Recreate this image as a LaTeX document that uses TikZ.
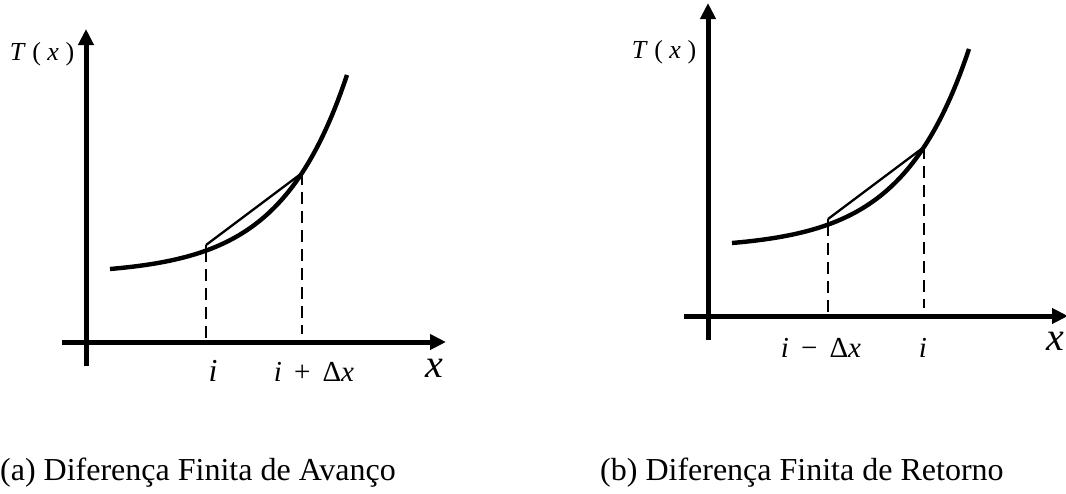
\documentclass[tikz,border=0pt]{standalone}
\usepackage{fontspec}
\setmainfont{Liberation Serif}
\usetikzlibrary{arrows.meta}
\begin{document}
\begin{tikzpicture}[x=1pt,y=-1pt,
  axis/.style={line width=5pt,-{Triangle[length=16pt,width=15pt]}},
  curve/.style={line width=4.4pt},
  chord/.style={line width=2.3pt},
  guide/.style={line width=2.8pt,dash pattern=on 12pt off 7pt},
  lbl/.style={inner sep=0pt,anchor=base,font=\fontsize{29}{31}\selectfont},
  biglbl/.style={inner sep=0pt,anchor=base,font=\fontsize{32}{34}\selectfont},
  axlbl/.style={inner sep=0pt,anchor=base,font=\fontsize{40}{42}\selectfont},
  tlbl/.style={inner sep=0pt,anchor=center,font=\fontsize{26}{28}\selectfont},
  captext/.style={inner sep=0pt,anchor=base west,font=\fontsize{32}{34}\selectfont}]
\useasboundingbox (0,0) rectangle (1066,493);
% ---------- left diagram ----------
\coordinate (La0) at (62,342);
\coordinate (La1) at (446,342);
\coordinate (Lb0) at (86,366);
\coordinate (Lb1) at (86,29);
\draw[axis] (La0) -- (La1);
\draw[axis] (Lb0) -- (Lb1);
\draw[curve] plot[domain=110:347,samples=80] (\x,{274.7-5.71*exp(0.015*(\x-110))});
\coordinate (LP) at (206,245);
\coordinate (LPc) at (206,250);
\coordinate (LQ) at (302,173);
\coordinate (LPb) at (206,342);
\coordinate (LQb) at (302,334);
\draw[chord] (LP) -- (LQ);
\draw[chord] (LP) -- (LPc);
\draw[guide] (LPc) -- (LPb);
\draw[guide] (LQ) -- (LQb);
\node[tlbl] (LT) at (42,54) {\textit{T} ( \textit{x} )};
\node[biglbl] (Li) at (213,381) {\textit{i}};
\node[lbl] (Lid) at (314,381) {\textit{i}\, + \,Δ\textit{x}};
\node[axlbl] (Lx) at (434,377) {\textit{x}};
% ---------- right diagram ----------
\begin{scope}[shift={(622,-26)}]
\coordinate (Ra0) at (62,342);
\coordinate (Ra1) at (446,342);
\coordinate (Rb0) at (86,366);
\coordinate (Rb1) at (86,29);
\draw[axis] (Ra0) -- (Ra1);
\draw[axis] (Rb0) -- (Rb1);
\draw[curve] plot[domain=110:347,samples=80] (\x,{274.7-5.71*exp(0.015*(\x-110))});
\coordinate (RP) at (206,245);
\coordinate (RPc) at (206,250);
\coordinate (RQ) at (302,173);
\coordinate (RPb) at (206,342);
\coordinate (RQb) at (302,334);
\draw[chord] (RP) -- (RQ);
\draw[chord] (RP) -- (RPc);
\draw[guide] (RPc) -- (RPb);
\draw[guide] (RQ) -- (RQb);
\end{scope}
\node[tlbl] (RT) at (664,52) {\textit{T} ( \textit{x} )};
\node[lbl] (Rid) at (821,357) {\textit{i}\, − \,Δ\textit{x}};
\node[lbl] (Ri) at (923,357) {\textit{i}};
\node[axlbl] (Rx) at (1055,350) {\textit{x}};
% ---------- captions ----------
\node[captext] (capa) at (0,480) {(a) Diferença Finita de Avanço};
\node[captext] (capb) at (600,480) {(b) Diferença Finita de Retorno};
\end{tikzpicture}
\end{document}
